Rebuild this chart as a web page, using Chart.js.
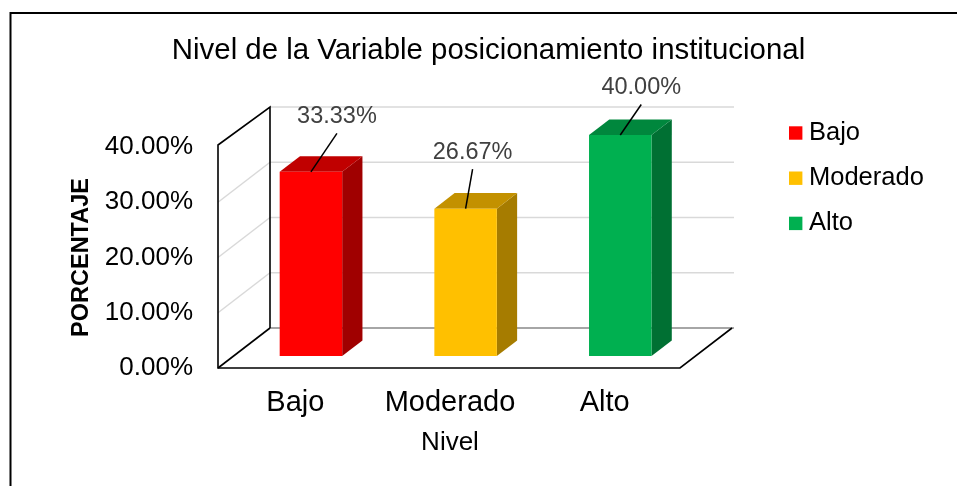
<!DOCTYPE html>
<html>
<head>
<meta charset="utf-8">
<script src="https://cdn.jsdelivr.net/npm/chart.js@4/dist/chart.umd.min.js"></script>
<style>
  html,body{margin:0;padding:0;background:#fff;}
  #wrap{width:957px;height:486px;position:relative;}
</style>
</head>
<body>
<div id="wrap"><canvas id="c" width="957" height="486"></canvas></div>
<script>
// datos
const categories=['Bajo','Moderado','Alto'];
const percentages=[33.33,26.67,40.00];
const chartTitle='Nivel de la Variable posicionamiento institucional';

// colores (frente / tapa / lado)
const frontColors=['#FF0000','#FFC000','#00B050'];
const topColors=['#C00000','#C39100','#00873D'];
const sideColors=['#A00000','#A67C00','#007033'];

// desplazamiento de las etiquetas respecto a la cara frontal de la barra
const labelOffsets=[[26,-55],[7,-56],[21,-47]];

const FONT="'Liberation Sans', Arial, sans-serif";
Chart.defaults.font.family=FONT;

// falso 3D: profundidad en px
const DX=52, DY=40, FRONT=0.3, BACK=0.69;
const proj=(x,y,d)=>[x+d*DX,y-d*DY];

const poly=(ctx,pts,fill)=>{
  ctx.beginPath();
  pts.forEach((p,i)=>i?ctx.lineTo(p[0],p[1]):ctx.moveTo(p[0],p[1]));
  ctx.closePath(); ctx.fillStyle=fill; ctx.fill();
};
const line=(ctx,a,b)=>{ctx.beginPath();ctx.moveTo(a[0],a[1]);ctx.lineTo(b[0],b[1]);ctx.stroke();};

const threeD={
  id:'threeD',
  beforeDraw(chart){
    const ctx=chart.ctx;
    ctx.save();
    ctx.fillStyle='#fff'; ctx.fillRect(0,0,chart.width,chart.height);
    ctx.strokeStyle='#000'; ctx.lineWidth=2;
    ctx.beginPath(); ctx.moveTo(10.5,chart.height); ctx.lineTo(10.5,13); ctx.lineTo(chart.width,13); ctx.stroke();
    ctx.restore();
  },
  beforeDatasetsDraw(chart){
    const {ctx,chartArea:a,scales:{x,y}}=chart;
    const y0=y.getPixelForValue(0), yTop=y.getPixelForValue(y.max);
    ctx.save();
    ctx.lineCap='butt';
    // lineas de la grilla (pared del fondo y pared izquierda)
    ctx.strokeStyle='#d9d9d9'; ctx.lineWidth=1.5;
    y.ticks.forEach(t=>{
      if(t.value===0) return;
      const py=y.getPixelForValue(t.value);
      line(ctx,proj(a.left,py,1),proj(a.right,py,1));
      if(t.value<y.max) line(ctx,proj(a.left,py,0),proj(a.left,py,1));
    });
    // borde trasero del piso
    ctx.strokeStyle='#a6a6a6'; ctx.lineWidth=2;
    line(ctx,proj(a.left,y0,1),proj(a.right,y0,1));
    // contorno pared y piso
    ctx.strokeStyle='#000'; ctx.lineWidth=1.6; ctx.lineJoin='miter';
    ctx.beginPath();
    [proj(a.left,y0,1),proj(a.left,yTop,1),proj(a.left,yTop-2,0),proj(a.left,y0,0),proj(a.right-2,y0,0),proj(a.right-2,y0,1)]
      .forEach((p,i)=>i?ctx.lineTo(p[0],p[1]):ctx.moveTo(p[0],p[1]));
    ctx.stroke();
    line(ctx,proj(a.left,y0,0),proj(a.left,y0,1));

    // barras
    chart.getDatasetMeta(0).data.forEach((bar,i)=>{
      const h=bar.width/2, l=bar.x-h, r=bar.x+h, top=bar.y, base=bar.base;
      poly(ctx,[proj(r,base,FRONT),proj(r,base,BACK),proj(r,top,BACK),proj(r,top,FRONT)],sideColors[i]);
      poly(ctx,[proj(l,top,FRONT),proj(r,top,FRONT),proj(r,top,BACK),proj(l,top,BACK)],topColors[i]);
      poly(ctx,[proj(l,base,FRONT),proj(r,base,FRONT),proj(r,top,FRONT),proj(l,top,FRONT)],frontColors[i]);
    });
    ctx.restore();
    return false;
  },
  afterDraw(chart){
    const ctx=chart.ctx;
    ctx.save();
    // etiquetas de datos con lineas guia
    chart.getDatasetMeta(0).data.forEach((bar,i)=>{
      const anchor=proj(bar.x,bar.y,FRONT);
      const lx=anchor[0]+labelOffsets[i][0], ly=anchor[1]+labelOffsets[i][1];
      ctx.strokeStyle='#000'; ctx.lineWidth=1.5;
      line(ctx,[lx,ly+16.5],anchor);
      ctx.fillStyle='#404040'; ctx.font='23.5px '+FONT;
      ctx.textAlign='center'; ctx.textBaseline='middle';
      ctx.fillText(percentages[i].toFixed(2)+'%',lx,ly);
    });
    // titulo
    ctx.fillStyle='#000'; ctx.font='29.4px '+FONT;
    ctx.textAlign='center'; ctx.textBaseline='middle';
    ctx.fillText(chartTitle,488.5,50.5);
    // leyenda
    ctx.font='25.5px '+FONT; ctx.textAlign='left';
    categories.forEach((c,i)=>{
      const cy=133+i*45.2;
      ctx.fillStyle=frontColors[i];
      ctx.fillRect(789,cy-6.7,13.4,13.4);
      ctx.fillStyle='#000';
      ctx.fillText(c,809,cy);
    });
    ctx.restore();
  }
};

new Chart(document.getElementById('c'),{
  type:'bar',
  data:{labels:categories,datasets:[{label:'Porcentaje',data:percentages,backgroundColor:frontColors,
    categoryPercentage:1,barPercentage:0.404}]},
  options:{
    responsive:false,animation:false,
    layout:{padding:{top:147,right:275,bottom:0,left:0}},
    plugins:{legend:{display:false},title:{display:false},tooltip:{enabled:false}},
    scales:{
      x:{grid:{display:false,drawTicks:false},border:{display:false},
        ticks:{font:{size:29},color:'#000',padding:17.6},
        title:{display:true,text:'Nivel',font:{size:26},color:'#000',padding:{top:0,bottom:27.6}},
        afterFit:s=>{s.height=118;}},
      y:{min:0,max:40,grid:{display:false,drawTicks:false},border:{display:false},
        ticks:{stepSize:10,font:{size:26},color:'#000',padding:25,callback:v=>v.toFixed(2)+'%'},
        title:{display:true,text:'PORCENTAJE',font:{size:23.5,weight:'bold'},color:'#000',padding:{top:67,bottom:0}},
        afterFit:s=>{s.width=218;}}
    }
  },
  plugins:[threeD]
});
</script>
</body>
</html>
